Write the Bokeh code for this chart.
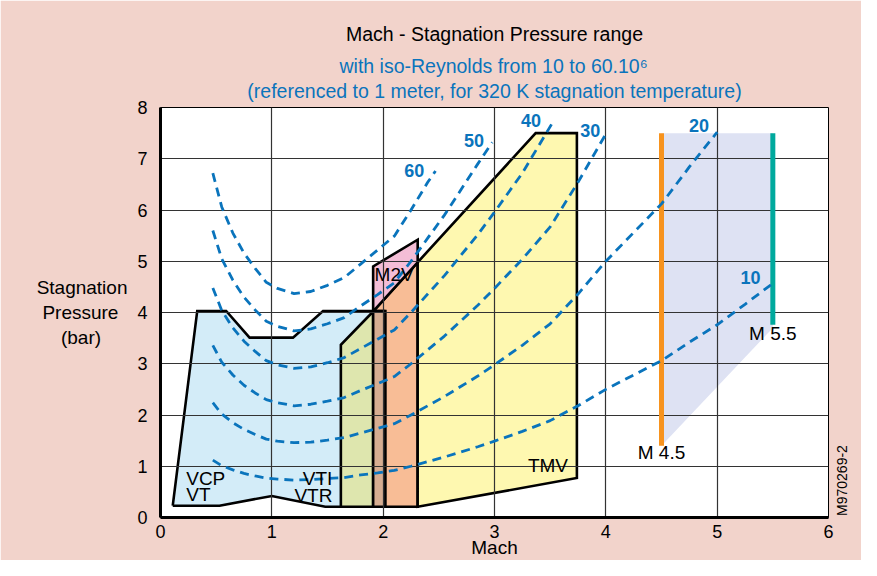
import math
from bokeh.plotting import figure
from bokeh.models import Label, Range1d, Title, LinearAxis, FixedTicker
from bokeh.embed import file_html
from bokeh.resources import INLINE

# ---------------- data ----------------
# iso-Reynolds curves (Mach, stagnation pressure in bar)
mach_grid = [0.47, 0.55, 0.65, 0.75, 0.85, 0.95, 1.05, 1.2, 1.35, 1.5, 1.65, 1.8, 1.95, 2.1, 2.25,
             2.4, 2.55, 2.7, 2.85, 3.0, 3.25, 3.5, 3.75, 4.0, 4.25, 4.5, 4.75, 5.0, 5.25, 5.52]

re60_x = mach_grid[:16] + [2.47]
re60_y = [6.72, 6.06, 5.55, 5.16, 4.86, 4.59, 4.47, 4.37, 4.41, 4.53, 4.68, 4.95, 5.22, 5.49, 6.00, 6.54, 6.76]
re50_x = mach_grid[:19] + [2.98]
re50_y = [5.60, 5.05, 4.63, 4.30, 4.05, 3.83, 3.73, 3.64, 3.68, 3.78, 3.90, 4.13, 4.35, 4.58, 5.00, 5.45, 5.90,
          6.40, 6.90, 7.32]
re40_x = mach_grid[:21] + [3.52]
re40_y = [4.48, 4.04, 3.70, 3.44, 3.24, 3.06, 2.98, 2.91, 2.94, 3.02, 3.12, 3.30, 3.48, 3.66, 4.00, 4.36, 4.72,
          5.12, 5.52, 5.96, 6.72, 7.70]
re30_x = mach_grid[:23] + [4.01]
re30_y = [3.36, 3.03, 2.78, 2.58, 2.43, 2.30, 2.24, 2.18, 2.21, 2.27, 2.34, 2.48, 2.61, 2.75, 3.00, 3.27, 3.54,
          3.84, 4.14, 4.47, 5.04, 5.67, 6.54, 7.52]
re20_x = mach_grid[:28]
re20_y = [2.24, 2.02, 1.85, 1.72, 1.62, 1.53, 1.49, 1.46, 1.47, 1.51, 1.56, 1.65, 1.74, 1.83, 2.00, 2.18, 2.36,
          2.56, 2.76, 2.98, 3.36, 3.78, 4.36, 5.00, 5.56, 6.12, 6.84, 7.52]
re10_x = mach_grid
re10_y = [1.12, 1.01, 0.93, 0.86, 0.81, 0.77, 0.75, 0.73, 0.74, 0.76, 0.78, 0.83, 0.87, 0.92, 1.00, 1.09, 1.18,
          1.28, 1.38, 1.49, 1.68, 1.89, 2.18, 2.50, 2.78, 3.06, 3.42, 3.76, 4.16, 4.60]

curve_labels = ["60", "50", "40", "30", "20", "10"]
curve_label_x = [2.28, 2.815, 3.327, 3.86, 4.836, 5.30]
curve_label_y = [6.78, 7.355, 7.74, 7.55, 7.64, 4.68]

# wind tunnel envelopes (Mach, bar)
vcp_x = [0.11, 0.33, 0.59, 0.80, 1.19, 1.46, 1.91, 1.62, 1.62, 1.48, 1.00, 0.53]
vcp_y = [0.23, 4.03, 4.03, 3.51, 3.51, 4.03, 4.03, 3.37, 0.21, 0.21, 0.42, 0.23]
vcp_outline_x = [0.11, 0.33, 0.59, 0.80, 1.19, 1.46, 2.02]
vcp_outline_y = [0.23, 4.03, 4.03, 3.51, 3.51, 4.03, 4.03]
vcp_bottom_x = [0.11, 0.53, 1.00, 1.48, 1.62]
vcp_bottom_y = [0.23, 0.23, 0.42, 0.21, 0.21]
vti_x = [1.62, 1.62, 1.91, 1.91]
vti_y = [0.21, 3.37, 4.02, 0.21]
orange_x = [1.91, 1.91, 2.31, 2.31]
orange_y = [0.21, 4.02, 4.98, 0.21]
brown_x = [1.91, 1.91, 2.02, 2.02]
brown_y = [0.21, 4.03, 4.03, 0.21]
m2v_x = [1.91, 1.91, 2.31, 2.31]
m2v_y = [4.02, 4.90, 5.42, 4.98]
tmv_x = [2.31, 2.31, 3.37, 3.74, 3.74]
tmv_y = [0.21, 4.98, 7.50, 7.50, 0.77]
hyper_x = [4.5, 4.5, 5.5, 5.5]
hyper_y = [1.40, 7.50, 7.50, 3.70]
m45_x = [4.5, 4.5]
m45_y = [1.40, 7.50]
m55_x = [5.5, 5.5]
m55_y = [3.76, 7.50]

ref_code = "M970269-2"
ref_code_y = 0.03

# ---------------- figure ----------------
FONT = "Liberation Sans"
BLUE = "#0A74BC"
BG = "#F2D3CB"
NB = "\u00a0"

p = figure(width=861, height=560, output_backend="svg", toolbar_location=None, title=None,
           x_range=Range1d(0, 6), y_range=Range1d(0, 8),
           min_border_left=160, min_border_right=24, min_border_top=107, min_border_bottom=38,
           background_fill_color="white", border_fill_color=BG)
p.outline_line_color = "black"
p.outline_line_width = 1

# titles (closest to the plot first); the first subtitle line is padded so it sits centred
p.add_layout(Title(text=NB * 17 + "with iso-Reynolds from 10 to 60.10\u2076\n"
                        "(referenced to 1 meter, for 320 K stagnation temperature)",
                   align="center", text_font=FONT, text_font_size="19.5px", text_font_style="normal",
                   text_color=BLUE, text_line_height=1.14, standoff=10), "above")
p.add_layout(Title(text="Mach - Stagnation Pressure range", align="center",
                   text_font=FONT, text_font_size="19.5px", text_font_style="normal",
                   text_color="black", standoff=7), "above")

for ax in (p.xaxis[0], p.yaxis[0]):
    ax.axis_line_width = 3
    ax.axis_line_color = "black"
    ax.major_tick_line_color = None
    ax.minor_tick_line_color = None
    ax.major_label_text_font = FONT
    ax.major_label_text_font_size = "18px"
    ax.major_label_text_color = "black"
    ax.axis_label_text_font = FONT
    ax.axis_label_text_font_size = "19px"
    ax.axis_label_text_font_style = "normal"
    ax.axis_label_text_color = "black"
p.xaxis[0].major_label_standoff = 1
p.yaxis[0].major_label_standoff = 7
p.xaxis[0].ticker.desired_num_ticks = 7
p.yaxis[0].ticker.desired_num_ticks = 9
p.xaxis[0].axis_label = "Mach"
p.xaxis[0].axis_label_standoff = -4
p.yaxis[0].axis_label = "Stagnation\nPressure" + NB + "\u2009\n(bar)" + NB * 5
p.yaxis[0].axis_label_orientation = "horizontal"
p.yaxis[0].axis_label_standoff = 7
p.yaxis[0].axis_label_text_align = "center"
p.yaxis[0].axis_label_text_line_height = 1.2

# figure reference code, written vertically at the right edge
code_axis = LinearAxis(ticker=FixedTicker(ticks=[ref_code_y]),
                       major_label_overrides={ref_code_y: ref_code},
                       major_label_orientation=math.pi / 2,
                       axis_line_color=None, major_tick_line_color=None, minor_tick_line_color=None,
                       major_label_text_font=FONT, major_label_text_font_size="14px",
                       major_label_text_color="black", major_label_standoff=8)
p.add_layout(code_axis, "right")

for g in (p.xgrid[0], p.ygrid[0]):
    g.grid_line_color = "#333333"
    g.grid_line_width = 1.2

def poly(xs, ys, color, outline=True):
    r = p.patch(xs, ys, fill_color=color, line_color="black" if outline else None,
                line_width=2.6, line_join="miter")
    r.level = "image"
    return r

poly(hyper_x, hyper_y, "#DEE2F3", outline=False)
poly(vcp_x, vcp_y, "#D3ECF8", outline=False)
poly(orange_x, orange_y, "#F8BD96")
poly(vti_x, vti_y, "#DEE6AE")
poly(brown_x, brown_y, "#D6AD91")
poly(m2v_x, m2v_y, "#F4BDD6")
poly(tmv_x, tmv_y, "#FEF8B0")
for xs, ys in ((vcp_outline_x, vcp_outline_y), (vcp_bottom_x, vcp_bottom_y)):
    r = p.line(xs, ys, line_color="black", line_width=2.6, line_join="miter")
    r.level = "image"

p.line(m45_x, m45_y, line_color="#F7931E", line_width=5)
p.line(m55_x, m55_y, line_color="#00A99D", line_width=5)

for xs, ys in ((re60_x, re60_y), (re50_x, re50_y), (re40_x, re40_y),
               (re30_x, re30_y), (re20_x, re20_y), (re10_x, re10_y)):
    p.line(xs, ys, line_color=BLUE, line_width=2.8, line_dash="9 6")

def lab(x, y, text, size="19px", color="black", align="left", style="normal"):
    p.add_layout(Label(x=x, y=y, text=text, text_font=FONT, text_font_size=size,
                       text_color=color, text_align=align, text_baseline="middle",
                       text_font_style=style))

for t, x, y in zip(curve_labels, curve_label_x, curve_label_y):
    lab(x, y, t, size="18px", color=BLUE, align="center", style="bold")

lab(0.231, 0.77, "VCP")
lab(0.231, 0.44, "VT")
lab(1.544, 0.77, "VTI", align="right")
lab(1.544, 0.43, "VTR", align="right")
lab(1.923, 4.74, "M2V")
lab(3.30, 1.02, "TMV")
lab(4.50, 1.26, "M 4.5", align="center")
lab(5.50, 3.60, "M 5.5", align="center")

open("out.html", "w").write(file_html(p, INLINE))
